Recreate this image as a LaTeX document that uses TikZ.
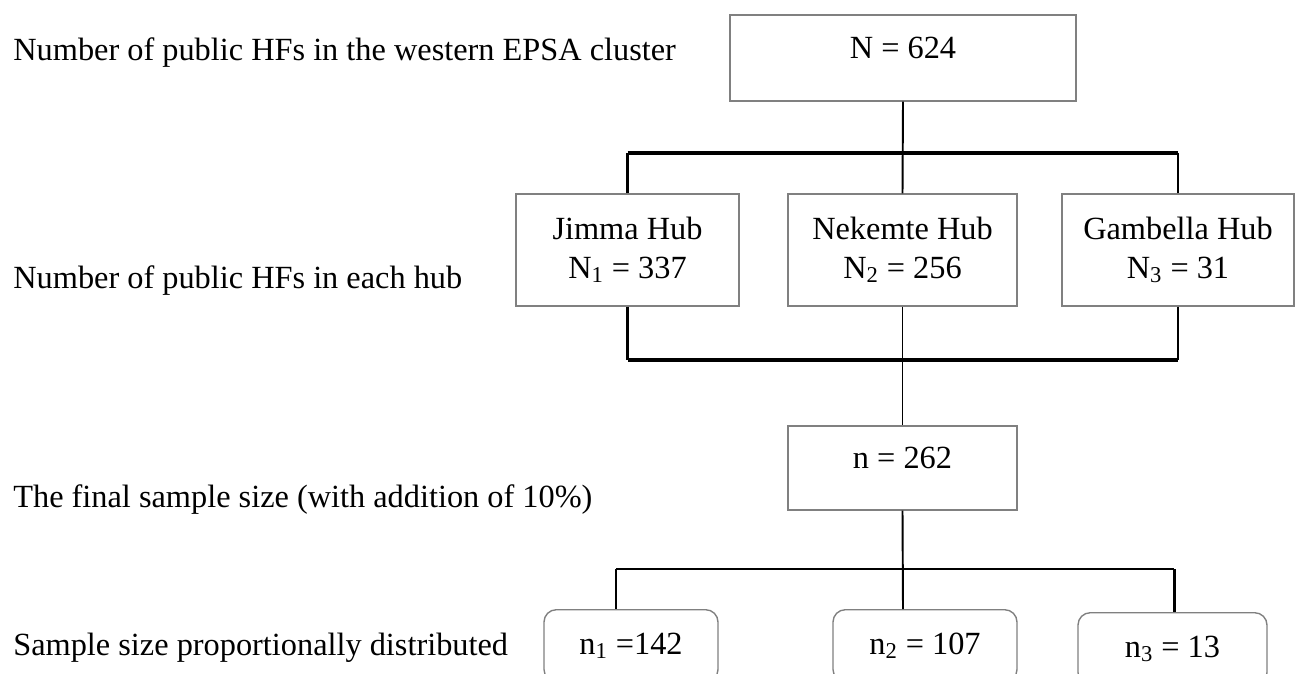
\documentclass[tikz,border=0pt]{standalone}
\usepackage{fontspec}
\setmainfont{Liberation Serif}
\usepackage{tikz}

\begin{document}
\begin{tikzpicture}[
    x=0.02cm, y=-0.02cm,
    every node/.style={font=\fontsize{18.4}{22}\selectfont},
    box/.style={draw=black!50, line width=0.8pt, inner sep=2pt, align=center},
    onebox/.style={box, text height=1em, text depth=1em},
    hubbox/.style={box, minimum height=112*0.02cm},
    sampbox/.style={box, rounded corners=7pt, anchor=north, minimum height=72*0.02cm},
    rowlabel/.style={anchor=base west, inner sep=0pt},
    heavy/.style={line width=2.3pt},
    mid/.style={line width=1.7pt},
    plain/.style={line width=1.1pt},
    slim/.style={line width=0.8pt}
]
\useasboundingbox (0,0) rectangle (1295,673);

% Row labels on the left
\node[rowlabel] (lab1) at (13,60) {Number of public HFs in the western EPSA cluster};
\node[rowlabel] (lab2) at (13,288) {Number of public HFs in each hub};
\node[rowlabel] (lab3) at (13,507) {The final sample size (with addition of 10\%)};
\node[rowlabel] (lab4) at (13,655) {Sample size proportionally distributed};

% Whole cluster
\node[onebox, minimum width=346*0.02cm, minimum height=86*0.02cm] (top) at (903,58) {N = 624};

% Hubs
\node[hubbox, minimum width=223*0.02cm] (hub1) at (627.5,250) {Jimma Hub\\N\textsubscript{1} = 337};
\node[hubbox, minimum width=229*0.02cm] (hub2) at (902.5,250) {Nekemte Hub\\N\textsubscript{2} = 256};
\node[hubbox, minimum width=232*0.02cm] (hub3) at (1178,250) {Gambella Hub\\N\textsubscript{3} = 31};

% Final sample
\node[onebox, minimum width=229*0.02cm, minimum height=84*0.02cm] (final) at (902.5,468) {n = 262};

% Samples per hub
\node[sampbox, minimum width=174*0.02cm] (samp1) at (631,609) {n\textsubscript{1} =142};
\node[sampbox, minimum width=184*0.02cm] (samp2) at (925,609) {n\textsubscript{2} = 107};
\node[sampbox, minimum width=189*0.02cm] (samp3) at (1172.5,612) {n\textsubscript{3} = 13};

% Bar rows
\coordinate (bar1) at (903,153);
\coordinate (bar2) at (903,360);
\coordinate (bar3) at (903,569);
\coordinate (drop1) at (616,569);
\coordinate (drop3) at (1174,569);

% Cluster -> hubs
\draw[plain] (top.south) -- (hub2.north);
\draw[heavy] (hub1.north |- bar1) -- (hub3.north |- bar1);
\draw[mid] (hub1.north) -- (hub1.north |- bar1);
\draw[slim] (hub3.north) -- (hub3.north |- bar1);

% Hubs -> final sample
\draw[heavy] (hub1.south |- bar2) -- (hub3.south |- bar2);
\draw[mid] (hub1.south) -- (hub1.south |- bar2);
\draw[slim] (hub3.south) -- (hub3.south |- bar2);
\draw[plain] (hub2.south) -- (final.north);

% Final sample -> samples per hub
\draw[plain] (final.south) -- (bar3 |- samp2.north);
\draw[line width=1.4pt] (drop1) -- (drop3);
\draw[plain] (drop1) -- (drop1 |- samp1.north);
\draw[mid] (drop3) -- (drop3 |- samp3.north);

\end{tikzpicture}
\end{document}
